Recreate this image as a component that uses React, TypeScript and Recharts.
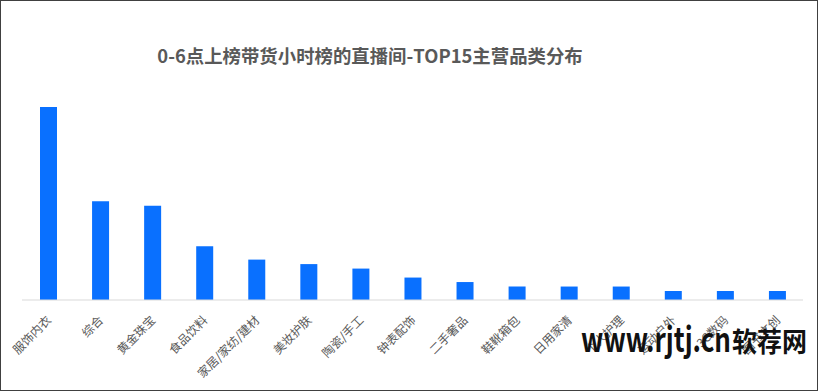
import { BarChart, Bar, XAxis, YAxis } from 'recharts'

const categories = ['服饰内衣', '综合', '黄金珠宝', '食品饮料', '家居/家纺/建材', '美妆护肤', '陶瓷/手工', '钟表配饰', '二手奢品', '鞋靴箱包', '日用家清', '个人护理', '运动户外', '3C数码', '图书文创']
const counts = [43, 22, 21, 12, 9, 8, 7, 5, 4, 3, 3, 3, 2, 2, 2]

const title = '0-6点上榜带货小时榜的直播间-TOP15主营品类分布'
const watermarkLatin = 'www.rjtj.cn'
const watermarkCjk = '软荐网'

const data = categories.map((name, i) => ({ name, value: counts[i] }))

const FONT = '"Noto Sans CJK SC", "Noto Sans", sans-serif'

function AngledTick({ x, y, payload }: any) {
  return (
    <g transform={`translate(${x + 4},${y + 21})`}>
      <text x={0} y={0} textAnchor="end" transform="rotate(-45)" fontSize={12} fill="#595959" fontFamily={FONT}>
        {payload.value}
      </text>
    </g>
  )
}

export default function App() {
  return (
    <div style={{ position: 'absolute', left: 0, top: 0, width: 818, height: 391, background: '#fff' }}>
      <BarChart width={818} height={391} data={data} margin={{ top: 107, right: 15, bottom: 0, left: 22 }}>
        <XAxis
          dataKey="name"
          interval={0}
          height={91}
          tickLine={false}
          tickSize={0}
          tickMargin={0}
          axisLine={{ stroke: '#d9d9d9' }}
          tick={<AngledTick />}
        />
        <YAxis hide domain={[0, 'dataMax']} />
        <Bar dataKey="value" fill="#0970ff" barSize={17} isAnimationActive={false} />
      </BarChart>
      <svg width={818} height={391} style={{ position: 'absolute', left: 0, top: 0, pointerEvents: 'none' }}>
        <text x={370} y={63} textAnchor="middle" fontSize={18.4} fontWeight="bold" fill="#595959" fontFamily={FONT}>
          {title}
        </text>
        <text x={581} y={352} fontSize={34} fontWeight="bold" fill="#111" fontFamily={FONT} textLength={150} lengthAdjust="spacingAndGlyphs">
          {watermarkLatin}
        </text>
        <text x={732} y={352} fontSize={27} fontWeight="bold" fill="#111" fontFamily={FONT} textLength={75} lengthAdjust="spacingAndGlyphs">
          {watermarkCjk}
        </text>
      </svg>
      <div style={{ position: 'absolute', left: 0, top: 0, width: 818, height: 391, boxSizing: 'border-box', border: '1px solid #404040' }} />
    </div>
  )
}
